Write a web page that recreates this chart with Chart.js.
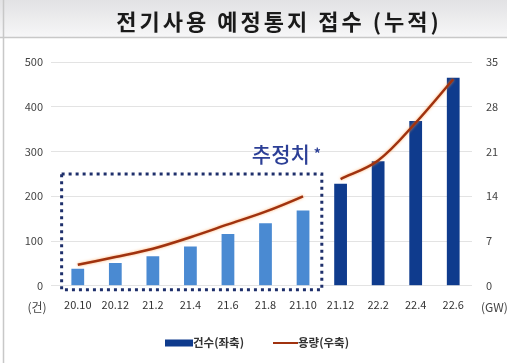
<!DOCTYPE html>
<html><head><meta charset="utf-8">
<script src="https://cdn.jsdelivr.net/npm/chart.js@4.4.1/dist/chart.umd.min.js"></script>
<style>html,body{margin:0;padding:0;background:#fff;}#wrap{width:507px;height:363px;position:relative;}</style>
</head><body><div id="wrap"><canvas id="c" width="507" height="363"></canvas></div>
<script>
const categories = ['20.10','20.12','21.2','21.4','21.6','21.8','21.10','21.12','22.2','22.4','22.6'];
const countValues = [38, 51, 66, 88, 116, 140, 168, 228, 278, 368, 465];
const capacityValues = [3.3, 4.5, 5.8, 7.6, 9.6, 11.6, 14.0, 16.7, 19.6, 25.5, 32.3];
const estimatedCount = 7;
const leftTicks = [0, 100, 200, 300, 400, 500];
const rightTicks = [0, 7, 14, 21, 28, 35];
const titleText = '전기사용 예정통지 접수 (누적)';
const estimateLabel = '추정치';
const seriesNames = ['건수(좌축)', '용량(우축)'];
const unitLeft = '(건)', unitRight = '(GW)';

const LIGHT = '#4a8ad2', DARK = '#0f3b8d', LINE = '#a0320f', BOX = '#1e2f6b';
const FONT = '"Noto Sans CJK KR","Noto Sans",sans-serif';

const decor = {
  id: 'decor',
  beforeDraw(chart) {
    const ctx = chart.ctx;
    ctx.save();
    const g = ctx.createLinearGradient(0, 0, 0, 38);
    g.addColorStop(0, '#e2e2e4'); g.addColorStop(1, '#f7f7f8');
    ctx.fillStyle = g; ctx.fillRect(0, 0, 507, 38);
    ctx.strokeStyle = '#c8c8c8'; ctx.lineWidth = 1.5;
    ctx.beginPath(); ctx.moveTo(0, 37.5); ctx.lineTo(507, 37.5); ctx.stroke();
    ctx.beginPath(); ctx.moveTo(3.5, 0); ctx.lineTo(3.5, 363); ctx.stroke();
    // title
    ctx.fillStyle = '#1a1a1a';
    ctx.font = 'bold 22px ' + FONT;
    ctx.letterSpacing = '3px';
    ctx.textAlign = 'center'; ctx.textBaseline = 'middle';
    ctx.fillText(titleText, 279, 22);
    ctx.restore();
  },
  beforeDatasetDraw(chart, args) {
    if (args.index === 0) {
      chart.ctx.save();
      chart.ctx.shadowColor = 'rgba(255,150,60,0.75)';
      chart.ctx.shadowBlur = 3;
    }
  },
  afterDatasetDraw(chart, args) {
    if (args.index === 0) chart.ctx.restore();
  },
  afterDraw(chart) {
    const ctx = chart.ctx, x = chart.scales.x, y = chart.scales.y;
    ctx.save();
    // dotted box around estimated values
    const left = x.getPixelForValue(0) - x.width / categories.length * 0.43;
    const right = (x.getPixelForValue(estimatedCount - 1) + x.getPixelForValue(estimatedCount)) / 2;
    const top = y.getPixelForValue(250);
    const bottom = y.getPixelForValue(-9);
    ctx.strokeStyle = BOX; ctx.lineWidth = 3; ctx.setLineDash([3, 4]);
    ctx.strokeRect(left, top, right - left, bottom - top);
    ctx.setLineDash([]);
    // estimate label
    ctx.fillStyle = '#2c3f96';
    ctx.font = '500 21px ' + FONT;
    ctx.textAlign = 'right'; ctx.textBaseline = 'middle';
    ctx.fillText(estimateLabel, right - 12, top - 20);
    ctx.font = 'bold 14px ' + FONT;
    ctx.textAlign = 'left';
    ctx.fillText('*', right - 8, top - 20);
    // unit labels
    ctx.fillStyle = '#444'; ctx.font = '12px ' + FONT;
    ctx.textAlign = 'center';
    ctx.fillText(unitLeft, 37, 307);
    ctx.textAlign = 'left';
    ctx.fillText(unitRight, 481, 307);
    // legend
    const ly = 343;
    ctx.font = 'bold 11.5px ' + FONT; ctx.textBaseline = 'middle';
    ctx.fillStyle = DARK; ctx.fillRect(165, ly - 3.5, 28, 7);
    ctx.fillStyle = '#333'; ctx.textAlign = 'left';
    ctx.fillText(seriesNames[0], 193, ly);
    ctx.strokeStyle = LINE; ctx.lineWidth = 2;
    ctx.beginPath(); ctx.moveTo(273, ly); ctx.lineTo(298, ly); ctx.stroke();
    ctx.fillText(seriesNames[1], 298, ly);
    ctx.restore();
  }
};

new Chart(document.getElementById('c'), {
  type: 'bar',
  data: {
    labels: categories,
    datasets: [
      {
        type: 'line', label: seriesNames[1], data: capacityValues, yAxisID: 'y1',
        borderColor: LINE, borderWidth: 2.5, pointRadius: 0, tension: 0.35, order: 0,
        segment: { borderColor: c => c.p0DataIndex === estimatedCount - 1 ? 'rgba(0,0,0,0)' : LINE }
      },
      {
        label: seriesNames[0], data: countValues, yAxisID: 'y', order: 1,
        backgroundColor: countValues.map((v, i) => i < estimatedCount ? LIGHT : DARK),
        barPercentage: 0.34, categoryPercentage: 1.0
      }
    ]
  },
  options: {
    responsive: false, animation: false,
    layout: { padding: { top: 62, bottom: 48, left: 0, right: 0 } },
    plugins: {
      legend: { display: false },
      tooltip: { enabled: false },
      title: { display: false }
    },
    scales: {
      x: {
        grid: { display: false }, border: { display: false },
        ticks: { color: '#333', font: { family: FONT, size: 11 }, padding: 4, maxRotation: 0, autoSkip: false }
      },
      y: {
        position: 'left', min: 0, max: 500,
        afterBuildTicks: s => { s.ticks = leftTicks.map(v => ({ value: v })); },
        afterFit: s => { s.width = 59; },
        grid: { color: '#e3e3e3', lineWidth: 1 }, border: { display: false },
        ticks: { color: '#444', font: { family: FONT, size: 11 }, padding: 8 }
      },
      y1: {
        position: 'right', min: 0, max: 35,
        afterBuildTicks: s => { s.ticks = rightTicks.map(v => ({ value: v })); },
        afterFit: s => { s.width = 35; },
        grid: { display: false }, border: { display: false },
        ticks: { color: '#444', font: { family: FONT, size: 11 }, padding: 6 }
      }
    }
  },
  plugins: [decor]
});
</script></body></html>
